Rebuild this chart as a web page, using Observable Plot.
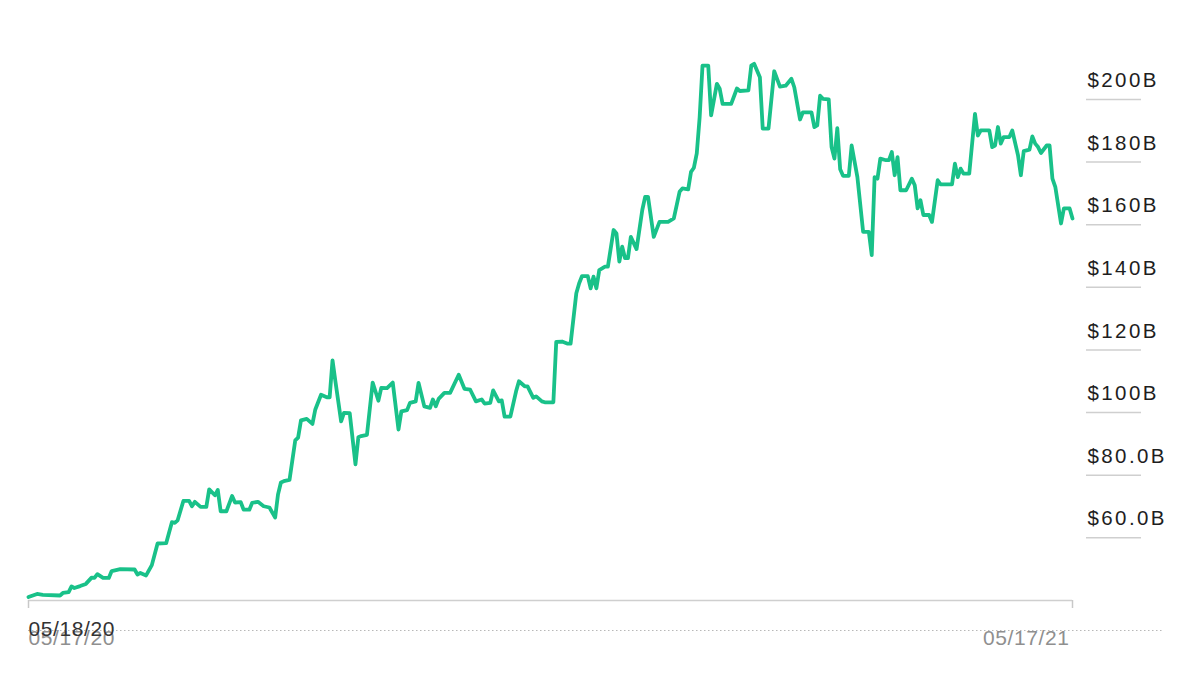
<!DOCTYPE html>
<html>
<head>
<meta charset="utf-8">
<script src="https://cdn.jsdelivr.net/npm/d3@7"></script>
<script src="https://cdn.jsdelivr.net/npm/@observablehq/plot@0.6"></script>
<style>
  html, body { margin: 0; padding: 0; background: #fff; }
  #chart svg { display: block; }
  #chart g[aria-label="y-axis tick label"] text { letter-spacing: 2.4px; }
  #chart g[aria-label="text"] text { letter-spacing: 0.6px; }
</style>
</head>
<body>
<div id="chart"></div>
<script>
// Market capitalisation, in billions of US dollars, over one year
const dates = [
  "2020-05-18","2020-05-21","2020-05-23","2020-05-29","2020-05-30","2020-06-01","2020-06-02","2020-06-03",
  "2020-06-05","2020-06-07","2020-06-09","2020-06-10","2020-06-11","2020-06-13","2020-06-15","2020-06-16",
  "2020-06-19","2020-06-24","2020-06-25","2020-06-26","2020-06-28","2020-06-30","2020-07-02","2020-07-05",
  "2020-07-07","2020-07-08","2020-07-09","2020-07-11","2020-07-13","2020-07-14","2020-07-15","2020-07-17",
  "2020-07-19","2020-07-20","2020-07-22","2020-07-23","2020-07-24","2020-07-26","2020-07-28","2020-07-29",
  "2020-07-31","2020-08-01","2020-08-03","2020-08-04","2020-08-06","2020-08-08","2020-08-10","2020-08-12",
  "2020-08-13","2020-08-14","2020-08-15","2020-08-17","2020-08-19","2020-08-20","2020-08-21","2020-08-23",
  "2020-08-25","2020-08-26","2020-08-28","2020-08-30","2020-08-31","2020-09-01","2020-09-02","2020-09-04",
  "2020-09-05","2020-09-07","2020-09-09","2020-09-10","2020-09-11","2020-09-13","2020-09-15","2020-09-17",
  "2020-09-18","2020-09-20","2020-09-22","2020-09-24","2020-09-25","2020-09-27","2020-09-28","2020-09-30",
  "2020-10-01","2020-10-03","2020-10-05","2020-10-06","2020-10-07","2020-10-08","2020-10-10","2020-10-12",
  "2020-10-15","2020-10-17","2020-10-19","2020-10-21","2020-10-23","2020-10-24","2020-10-26","2020-10-27",
  "2020-10-29","2020-10-30","2020-10-31","2020-11-02","2020-11-04","2020-11-05","2020-11-07","2020-11-08",
  "2020-11-10","2020-11-11","2020-11-13","2020-11-14","2020-11-17","2020-11-18","2020-11-20","2020-11-22",
  "2020-11-23","2020-11-25","2020-11-26","2020-11-27","2020-11-29","2020-11-30","2020-12-01","2020-12-02",
  "2020-12-03","2020-12-05","2020-12-06","2020-12-08","2020-12-09","2020-12-10","2020-12-11","2020-12-12",
  "2020-12-13","2020-12-14","2020-12-16","2020-12-18","2020-12-19","2020-12-20","2020-12-22","2020-12-24",
  "2020-12-27","2020-12-29","2020-12-31","2021-01-01","2021-01-03","2021-01-04","2021-01-05","2021-01-06",
  "2021-01-07","2021-01-08","2021-01-10","2021-01-11","2021-01-13","2021-01-14","2021-01-15","2021-01-18",
  "2021-01-20","2021-01-21","2021-01-24","2021-01-25","2021-01-26","2021-01-28","2021-01-29","2021-01-31",
  "2021-02-02","2021-02-04","2021-02-06","2021-02-08","2021-02-09","2021-02-11","2021-02-12","2021-02-15",
  "2021-02-16","2021-02-17","2021-02-18","2021-02-19","2021-02-21","2021-02-22","2021-02-23","2021-02-24",
  "2021-02-25","2021-02-26","2021-02-28","2021-03-01","2021-03-03","2021-03-05","2021-03-07","2021-03-08",
  "2021-03-09","2021-03-10","2021-03-11","2021-03-13","2021-03-14","2021-03-15","2021-03-16","2021-03-17",
  "2021-03-18","2021-03-20","2021-03-22","2021-03-23","2021-03-24","2021-03-25","2021-03-26","2021-03-28",
  "2021-03-29","2021-03-31","2021-04-01","2021-04-05","2021-04-06","2021-04-07","2021-04-08","2021-04-09",
  "2021-04-11","2021-04-13","2021-04-14","2021-04-15","2021-04-18","2021-04-19","2021-04-20","2021-04-21",
  "2021-04-22","2021-04-23","2021-04-25","2021-04-26","2021-04-28","2021-04-29","2021-04-30","2021-05-02",
  "2021-05-03","2021-05-04","2021-05-05","2021-05-06","2021-05-08","2021-05-09","2021-05-10","2021-05-11",
  "2021-05-13","2021-05-14","2021-05-16","2021-05-17"
];

const marketCap = [
  41.1, 42.1, 41.8, 41.6, 42.4, 42.7, 44.5, 44.0,
  44.6, 45.3, 47.3, 47.2, 48.4, 47.2, 47.2, 49.4,
  50.0, 49.9, 48.3, 48.8, 48.0, 51.3, 58.2, 58.3,
  65.0, 64.8, 65.6, 71.8, 71.8, 70.1, 71.5, 69.9,
  69.9, 75.5, 73.6, 75.3, 68.5, 68.5, 73.4, 71.3,
  71.4, 69.0, 69.0, 71.2, 71.5, 70.1, 69.7, 66.5,
  73.9, 77.7, 78.1, 78.5, 91.1, 92.0, 97.5, 98.0,
  96.4, 101.0, 105.7, 104.9, 104.9, 116.7, 110.0, 97.2,
  99.9, 99.8, 83.5, 92.1, 92.5, 92.9, 109.6, 103.8,
  107.9, 107.8, 109.6, 94.6, 100.4, 100.8, 103.1, 103.6,
  109.5, 102.0, 101.5, 104.2, 102.0, 104.4, 106.3, 106.3,
  112.1, 107.6, 107.3, 103.6, 104.2, 102.9, 103.1, 107.1,
  103.6, 103.9, 98.7, 98.7, 106.8, 110.0, 108.4, 108.4,
  104.7, 105.2, 103.6, 103.3, 103.3, 122.6, 122.7, 122.0,
  122.0, 138.1, 141.3, 143.6, 143.6, 139.7, 143.4, 139.7,
  145.5, 146.6, 146.6, 158.3, 157.2, 148.2, 153.0, 149.3,
  149.3, 156.1, 152.2, 164.7, 168.9, 168.9, 156.1, 160.9,
  160.9, 162.0, 170.5, 171.6, 171.3, 176.9, 178.2, 182.8,
  194.3, 210.8, 210.8, 194.9, 205.0, 203.4, 198.6, 198.6,
  203.5, 202.7, 202.9, 210.8, 211.4, 207.1, 190.7, 190.7,
  209.0, 204.1, 204.4, 206.6, 203.9, 193.6, 195.9, 195.9,
  191.2, 191.7, 201.2, 200.2, 200.0, 184.8, 181.1, 190.8,
  177.7, 175.6, 175.6, 185.3, 175.2, 157.7, 157.7, 150.3,
  175.2, 174.7, 181.1, 180.6, 180.6, 183.2, 175.8, 181.6,
  171.0, 171.0, 174.7, 172.6, 165.2, 167.8, 163.1, 163.1,
  160.9, 174.2, 172.9, 172.9, 179.5, 175.2, 177.9, 176.3,
  176.3, 195.4, 188.5, 190.1, 190.1, 184.8, 185.3, 191.2,
  185.9, 188.0, 188.0, 190.1, 182.2, 175.8, 183.5, 184.0,
  188.2, 185.9, 184.8, 182.9, 185.3, 185.3, 174.7, 172.1,
  160.4, 165.2, 165.2, 162.0
];

// Value axis: tick values and their labels
const yTicks = [60, 80, 100, 120, 140, 160, 180, 200];
const yTickLabels = ["$60.0B", "$80.0B", "$100B", "$120B", "$140B", "$160B", "$180B", "$200B"];

// Date axis: range ends and the labels under them
const rangeStart = "2020-05-18";
const rangeEnd = "2021-05-17";
const highlightLabel = "05/18/20";
const startLabel = "05/17/20";
const endLabel = "05/17/21";

const parse = d3.utcParse("%Y-%m-%d");
const series = dates.map((d, i) => ({date: parse(d), value: marketCap[i]}));
const labelOf = new Map(yTicks.map((t, i) => [t, yTickLabels[i]]));
const xEnds = [parse(rangeStart), parse(rangeEnd)];

const font = "'Liberation Sans', Arial, Helvetica, sans-serif";
const green = "#19c189";

const chart = Plot.plot({
  width: 1200,
  height: 691,
  marginLeft: 28,
  marginRight: 128,
  marginTop: 0,
  marginBottom: 91,
  style: {fontFamily: font, background: "#fff", overflow: "visible"},
  x: {type: "utc", domain: xEnds},
  y: {domain: [40, 231.6]},
  marks: [
    // dotted guide under the chart
    Plot.ruleY([40], {dy: 30, stroke: "#b8b8b8", strokeWidth: 1.2, strokeDasharray: "1.5,2.5", insetRight: -90}),
    // baseline
    Plot.ruleY([40], {stroke: "#cfcfcf", strokeWidth: 1.5}),
    // small ticks at both ends of the date range
    Plot.axisX(xEnds, {tickSize: 8, tickFormat: () => "", label: null, stroke: "#c8c8c8", strokeWidth: 1.5}),
    // short grid strokes on the right, with the labels sitting above them
    Plot.axisY(yTicks, {anchor: "right", tickSize: 55, dx: 13, tickFormat: () => "", label: null,
      stroke: "#cfcfcf", strokeWidth: 1.5}),
    Plot.axisY(yTicks, {anchor: "right", tickSize: 0, tickPadding: 15, dy: -19, tickFormat: t => labelOf.get(t),
      label: null, fill: "#1e1e1e", fontSize: 20.5, textAnchor: "start"}),
    // the series
    Plot.line(series, {x: "date", y: "value", stroke: green, strokeWidth: 3.8, strokeLinejoin: "round", strokeLinecap: "round"}),
    // date labels
    Plot.text([{date: xEnds[0], label: startLabel}], {x: "date", text: "label", frameAnchor: "bottom", lineAnchor: "middle",
      dy: 37.5, textAnchor: "start", fill: "#8f8f8f", fontSize: 21}),
    Plot.text([{date: xEnds[1], label: endLabel}], {x: "date", text: "label", frameAnchor: "bottom", lineAnchor: "middle",
      dy: 37.5, dx: -3, textAnchor: "end", fill: "#8f8f8f", fontSize: 21}),
    Plot.text([{date: xEnds[0], label: highlightLabel}], {x: "date", text: "label", frameAnchor: "bottom", lineAnchor: "middle",
      dy: 28.5, textAnchor: "start", fill: "#333", fontSize: 21})
  ]
});

document.getElementById("chart").appendChild(chart);
</script>
</body>
</html>
